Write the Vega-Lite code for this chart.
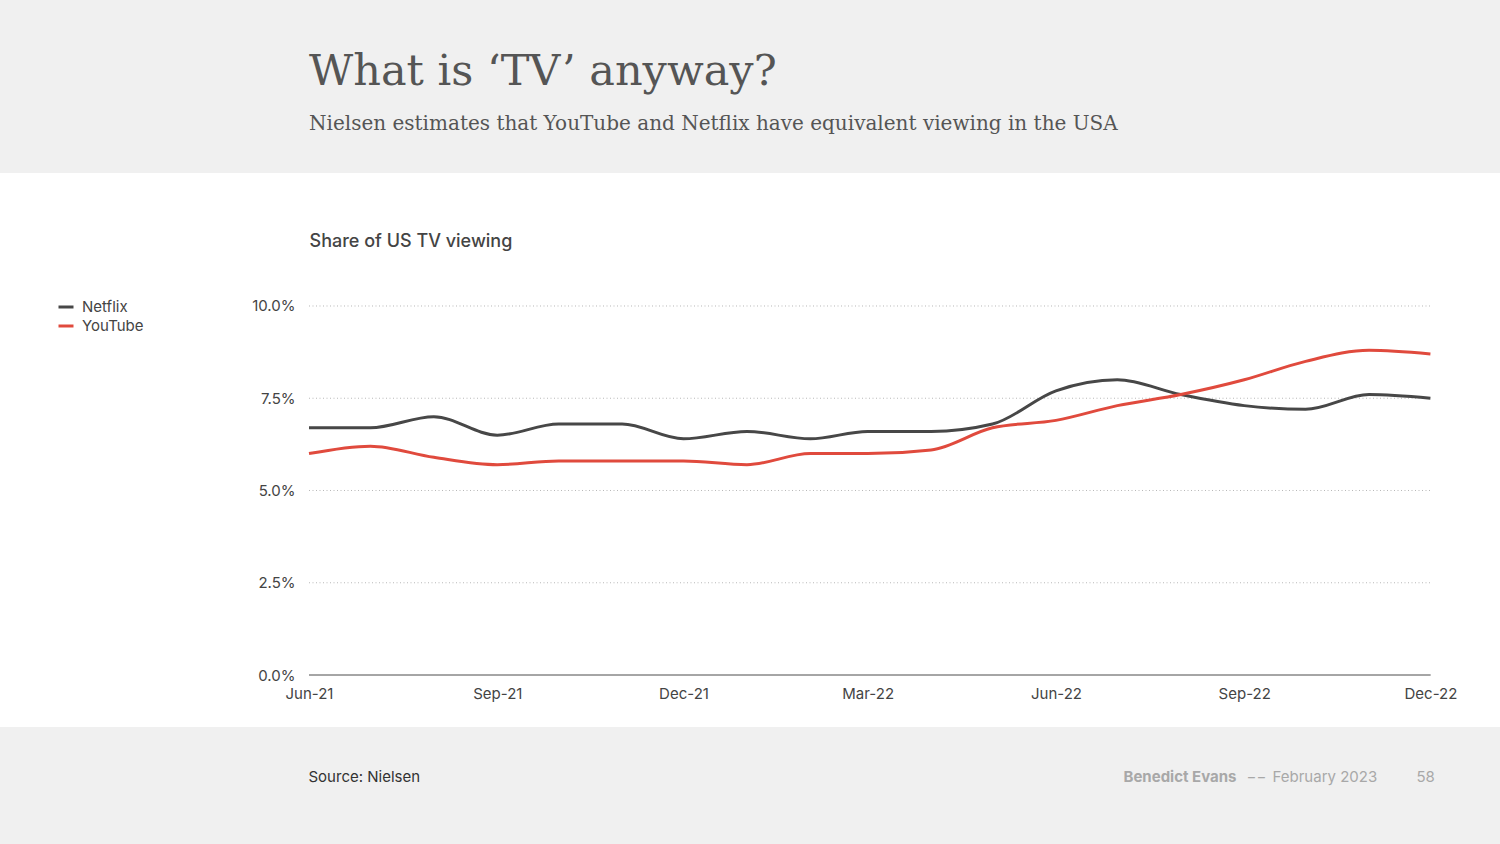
{
  "$schema": "https://vega.github.io/schema/vega-lite/v6.json",
  "width": 1500,
  "height": 554,
  "autosize": {"type": "none"},
  "padding": {"top": 173, "left": 0, "right": 0, "bottom": 117},
  "background": "#f0f0f0",
  "config": {
    "view": {"fill": "white", "stroke": null},
    "font": "Inter"
  },
  "title": {
    "text": "What is ‘TV’ anyway?",
    "subtitle": "Nielsen estimates that YouTube and Netflix have equivalent viewing in the USA",
    "anchor": "start",
    "frame": "group",
    "dx": 309,
    "offset": 39,
    "font": "DejaVu Serif",
    "fontSize": 43,
    "fontWeight": "normal",
    "color": "#555555",
    "subtitleFont": "DejaVu Serif",
    "subtitleFontSize": 20,
    "subtitleColor": "#555555",
    "subtitlePadding": 20
  },
  "datasets": {
    "viewing": [
      {"date": "2021-06-01", "service": "Netflix", "share": 6.7},
      {"date": "2021-07-01", "service": "Netflix", "share": 6.7},
      {"date": "2021-08-01", "service": "Netflix", "share": 7.0},
      {"date": "2021-09-01", "service": "Netflix", "share": 6.5},
      {"date": "2021-10-01", "service": "Netflix", "share": 6.8},
      {"date": "2021-11-01", "service": "Netflix", "share": 6.8},
      {"date": "2021-12-01", "service": "Netflix", "share": 6.4},
      {"date": "2022-01-01", "service": "Netflix", "share": 6.6},
      {"date": "2022-02-01", "service": "Netflix", "share": 6.4},
      {"date": "2022-03-01", "service": "Netflix", "share": 6.6},
      {"date": "2022-04-01", "service": "Netflix", "share": 6.6},
      {"date": "2022-05-01", "service": "Netflix", "share": 6.8},
      {"date": "2022-06-01", "service": "Netflix", "share": 7.7},
      {"date": "2022-07-01", "service": "Netflix", "share": 8.0},
      {"date": "2022-08-01", "service": "Netflix", "share": 7.6},
      {"date": "2022-09-01", "service": "Netflix", "share": 7.3},
      {"date": "2022-10-01", "service": "Netflix", "share": 7.2},
      {"date": "2022-11-01", "service": "Netflix", "share": 7.6},
      {"date": "2022-12-01", "service": "Netflix", "share": 7.5},
      {"date": "2021-06-01", "service": "YouTube", "share": 6.0},
      {"date": "2021-07-01", "service": "YouTube", "share": 6.2},
      {"date": "2021-08-01", "service": "YouTube", "share": 5.9},
      {"date": "2021-09-01", "service": "YouTube", "share": 5.7},
      {"date": "2021-10-01", "service": "YouTube", "share": 5.8},
      {"date": "2021-11-01", "service": "YouTube", "share": 5.8},
      {"date": "2021-12-01", "service": "YouTube", "share": 5.8},
      {"date": "2022-01-01", "service": "YouTube", "share": 5.7},
      {"date": "2022-02-01", "service": "YouTube", "share": 6.0},
      {"date": "2022-03-01", "service": "YouTube", "share": 6.0},
      {"date": "2022-04-01", "service": "YouTube", "share": 6.1},
      {"date": "2022-05-01", "service": "YouTube", "share": 6.7},
      {"date": "2022-06-01", "service": "YouTube", "share": 6.9},
      {"date": "2022-07-01", "service": "YouTube", "share": 7.3},
      {"date": "2022-08-01", "service": "YouTube", "share": 7.6},
      {"date": "2022-09-01", "service": "YouTube", "share": 8.0},
      {"date": "2022-10-01", "service": "YouTube", "share": 8.5},
      {"date": "2022-11-01", "service": "YouTube", "share": 8.8},
      {"date": "2022-12-01", "service": "YouTube", "share": 8.7}
    ],
    "gridlines": [
      {"v": 2.5},
      {"v": 5},
      {"v": 7.5},
      {"v": 10}
    ]
  },
  "layer": [
    {
      "data": {"name": "gridlines"},
      "mark": {"type": "rule", "color": "#b8b8b8", "strokeWidth": 1, "strokeDash": [1, 2.5]},
      "encoding": {
        "x": {
          "datum": {"year": 2021, "month": 6, "date": 1, "utc": true},
          "type": "temporal",
          "scale": {"type": "utc", "domain": [{"year": 2021, "month": 1, "date": 1, "utc": true}, {"year": 2023, "month": 1, "date": 4, "utc": true}]},
          "axis": {
            "orient": "bottom", "labels": false, "ticks": false, "domain": false, "grid": false,
            "title": "Benedict Evans", "titleX": 1123, "titleY": 54, "titleAngle": 0,
            "titleAlign": "left", "titleBaseline": "alphabetic", "titleFont": "Inter",
            "titleFontSize": 15, "titleFontWeight": "bold", "titleColor": "#a8a8a8"
          }
        },
        "x2": {"datum": {"year": 2022, "month": 12, "date": 1, "utc": true}},
        "y": {
          "field": "v",
          "type": "quantitative",
          "scale": {"domain": [-1.409, 13.604], "nice": false, "zero": false},
          "axis": {
            "orient": "right", "labels": false, "ticks": false, "domain": false, "grid": false,
            "title": "−−", "titleX": -254, "titleY": 608, "titleAngle": 0,
            "titleAlign": "left", "titleBaseline": "alphabetic", "titleFont": "Inter",
            "titleFontSize": 15, "titleFontWeight": "normal", "titleColor": "#a8a8a8"
          }
        }
      }
    },
    {
      "data": {"name": "gridlines"},
      "mark": {"type": "rule", "color": "#a0a0a0", "strokeWidth": 1},
      "encoding": {
        "x": {
          "datum": {"year": 2021, "month": 6, "date": 1, "utc": true},
          "type": "temporal",
          "scale": {"type": "utc", "domain": [{"year": 2021, "month": 1, "date": 1, "utc": true}, {"year": 2023, "month": 1, "date": 4, "utc": true}]},
          "axis": {
            "orient": "bottom", "labels": false, "ticks": false, "domain": false, "grid": false,
            "title": "February 2023", "titleX": 1272, "titleY": 54, "titleAngle": 0,
            "titleAlign": "left", "titleBaseline": "alphabetic", "titleFont": "Inter",
            "titleFontSize": 15, "titleFontWeight": "normal", "titleColor": "#a8a8a8"
          }
        },
        "x2": {"datum": {"year": 2022, "month": 12, "date": 1, "utc": true}},
        "y": {
          "datum": 0,
          "type": "quantitative",
          "scale": {"domain": [-1.409, 13.604], "nice": false, "zero": false},
          "axis": {
            "orient": "right", "labels": false, "ticks": false, "domain": false, "grid": false,
            "title": "58", "titleX": -84, "titleY": 608, "titleAngle": 0,
            "titleAlign": "left", "titleBaseline": "alphabetic", "titleFont": "Inter",
            "titleFontSize": 15, "titleFontWeight": "normal", "titleColor": "#a8a8a8"
          }
        }
      }
    },
    {
      "data": {"name": "viewing"},
      "mark": {"type": "line", "interpolate": "monotone", "strokeWidth": 3},
      "encoding": {
        "x": {
          "field": "date",
          "type": "temporal",
          "scale": {"type": "utc", "domain": [{"year": 2021, "month": 1, "date": 1, "utc": true}, {"year": 2023, "month": 1, "date": 4, "utc": true}]},
          "axis": {
            "orient": "bottom",
            "values": [
              {"year": 2021, "month": 6, "date": 1, "utc": true},
              {"year": 2021, "month": 9, "date": 1, "utc": true},
              {"year": 2021, "month": 12, "date": 1, "utc": true},
              {"year": 2022, "month": 3, "date": 1, "utc": true},
              {"year": 2022, "month": 6, "date": 1, "utc": true},
              {"year": 2022, "month": 9, "date": 1, "utc": true},
              {"year": 2022, "month": 12, "date": 1, "utc": true}
            ],
            "labelExpr": "utcFormat(datum.value, '%b-%y')",
            "offset": -52,
            "domain": false, "ticks": false, "tickSize": 0, "grid": false,
            "labelPadding": 11, "labelFontSize": 15, "labelColor": "#444444",
            "labelFlush": false, "labelOverlap": false,
            "title": "Source: Nielsen", "titleX": 308, "titleY": 106,
            "titleAlign": "left", "titleBaseline": "alphabetic",
            "titleFontSize": 15, "titleFontWeight": "normal", "titleColor": "#333333"
          }
        },
        "y": {
          "field": "share",
          "type": "quantitative",
          "scale": {"domain": [-1.409, 13.604], "nice": false, "zero": false},
          "axis": {
            "orient": "left",
            "values": [0, 2.5, 5, 7.5, 10],
            "labelExpr": "format(datum.value, '.1f') + '%'",
            "offset": -297,
            "domain": false, "ticks": false, "tickSize": 0, "grid": false,
            "labelPadding": 2, "labelFontSize": 15, "labelColor": "#444444",
            "title": "Share of US TV viewing", "titleAngle": 0,
            "titleX": 12, "titleY": 73, "titleAlign": "left", "titleBaseline": "alphabetic",
            "titleFontSize": 18, "titleFontWeight": 500, "titleColor": "#444444"
          }
        },
        "color": {
          "field": "service",
          "type": "nominal",
          "scale": {"domain": ["Netflix", "YouTube"], "range": ["#474747", "#e04a3d"]},
          "legend": {
            "orient": "none", "legendX": 57, "legendY": 125,
            "title": null, "symbolType": "stroke", "symbolSize": 225,
            "symbolStrokeWidth": 3, "labelFontSize": 15, "labelColor": "#444444",
            "labelOffset": 7, "rowPadding": 2
          }
        }
      }
    }
  ],
  "resolve": {"axis": {"x": "independent", "y": "independent"}}
}
